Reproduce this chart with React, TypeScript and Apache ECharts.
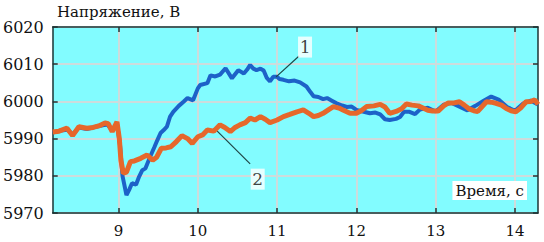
import React, { useEffect, useRef } from "react";
import * as echarts from "echarts";

const X_MIN = 8.17;
const X_MAX = 14.29;
const xTickValues = [9, 10, 11, 12, 13, 14];
const yTickValues = [5970, 5980, 5990, 6000, 6010, 6020];

// Series 1 (blue)
const series1: [number, number][] = [
  [8.17, 5991.6], [8.27, 5992.2], [8.36, 5992.4], [8.42, 5991], [8.5, 5993], [8.6, 5992.6],
  [8.7, 5993.1], [8.8, 5993.6], [8.86, 5993.8], [8.92, 5992.2], [8.98, 5994.2], [9.02, 5988],
  [9.05, 5980], [9.1, 5974.8], [9.14, 5976.5], [9.17, 5978], [9.22, 5977.6], [9.26, 5979.8],
  [9.3, 5981.5], [9.34, 5982], [9.4, 5985.2], [9.45, 5987.6], [9.49, 5989.6], [9.53, 5991.5],
  [9.57, 5992.3], [9.61, 5993.2], [9.65, 5995.9], [9.69, 5997.2], [9.76, 5998.8], [9.82, 5999.9],
  [9.87, 6000.9], [9.94, 6000.3], [10.0, 6003.5], [10.03, 6004.4], [10.12, 6004.9], [10.16, 6007],
  [10.22, 6006.7], [10.28, 6007.2], [10.35, 6008.9], [10.43, 6006.2], [10.47, 6007.3], [10.51, 6008.4],
  [10.58, 6007.5], [10.62, 6008.5], [10.66, 6009.8], [10.7, 6008.8], [10.74, 6008.4], [10.79, 6008.8],
  [10.83, 6008.3], [10.87, 6006.3], [10.91, 6005.4], [10.95, 6006.6], [11.0, 6006.6], [11.03, 6006],
  [11.08, 6005.8], [11.15, 6005.4], [11.22, 6005.6], [11.29, 6005.1], [11.37, 6004], [11.42, 6002.5],
  [11.46, 6001.4], [11.52, 6001.2], [11.58, 6000.6], [11.63, 6000.9], [11.69, 6000.2], [11.75, 5999.5],
  [11.82, 5998.9], [11.88, 5998.5], [11.94, 5998.6], [12.0, 5997.7], [12.08, 5997.3], [12.17, 5996.8],
  [12.24, 5997], [12.3, 5996.5], [12.36, 5995.2], [12.42, 5995], [12.5, 5995.3], [12.55, 5995.8],
  [12.6, 5997.2], [12.67, 5997.2], [12.74, 5996.6], [12.8, 5997.8], [12.9, 5998.3], [13.0, 5997.3],
  [13.1, 5999.1], [13.2, 5999.6], [13.3, 5998.6], [13.4, 5997.6], [13.5, 5998.8], [13.6, 6000.1],
  [13.7, 6001.3], [13.8, 6000.4], [13.9, 5998.5], [14.0, 5997.5], [14.1, 5999.4], [14.2, 6000.2],
  [14.29, 5999.2],
];

// Series 2 (orange)
const series2: [number, number][] = [
  [8.17, 5991.8], [8.25, 5992], [8.35, 5992.8], [8.42, 5990.8], [8.5, 5993.2], [8.6, 5992.8],
  [8.68, 5993], [8.75, 5993.4], [8.83, 5994.2], [8.87, 5994], [8.92, 5991.9], [8.98, 5994.5],
  [9.01, 5990], [9.03, 5984.2], [9.06, 5980.7], [9.1, 5981], [9.15, 5983.8], [9.2, 5984],
  [9.28, 5984.7], [9.36, 5985.6], [9.43, 5984.2], [9.48, 5985], [9.54, 5987.4], [9.6, 5987.5],
  [9.66, 5987.8], [9.73, 5989.2], [9.8, 5990.8], [9.87, 5990], [9.93, 5988.7], [10.0, 5990.5],
  [10.06, 5991], [10.12, 5992.3], [10.2, 5992], [10.28, 5993.7], [10.34, 5993], [10.41, 5991.9],
  [10.47, 5993], [10.53, 5993.7], [10.6, 5994.3], [10.66, 5995.5], [10.72, 5995], [10.79, 5995.9],
  [10.85, 5995.2], [10.91, 5994.3], [11.0, 5995], [11.08, 5995.9], [11.16, 5996.5], [11.25, 5997.2],
  [11.33, 5997.7], [11.4, 5996.8], [11.46, 5995.9], [11.52, 5996.2], [11.58, 5996.8], [11.65, 5997.8],
  [11.71, 5998.6], [11.78, 5998.2], [11.83, 5997.7], [11.92, 5996.8], [12.0, 5996.8], [12.06, 5997.5],
  [12.13, 5998.6], [12.22, 5998.8], [12.3, 5999.2], [12.36, 5998.5], [12.42, 5996.8], [12.5, 5997.3],
  [12.57, 5998], [12.63, 5999.3], [12.7, 5999], [12.78, 5998.8], [12.84, 5998.2], [12.9, 5997.6],
  [12.96, 5997.4], [13.03, 5997.4], [13.1, 5998.8], [13.16, 5999.6], [13.23, 5999.6], [13.3, 5999.9],
  [13.36, 5999], [13.42, 5998], [13.48, 5997.5], [13.53, 5997.3], [13.58, 5998.5], [13.64, 5999.9],
  [13.7, 5999.8], [13.76, 5999.5], [13.83, 5999], [13.89, 5998.1], [13.95, 5997.5], [14.01, 5997.2],
  [14.07, 5998.2], [14.14, 5999.9], [14.2, 6000], [14.25, 6000.4], [14.29, 5999.2],
];

// Callout labels and their leader lines (data coordinates)
const calloutLabels = ["1", "2"];
const calloutPositions: [number, number][] = [[11.352, 6014.6], [10.755, 5979.1]];
const leader1: [number, number][] = [[10.987, 6006.6], [11.277, 6012.2]];
const leader2: [number, number][] = [[10.245, 5992.0], [10.66, 5983.2]];

const yAxisTitle = "Напряжение, В";
const xAxisTitle = "Время, с";

const FONT = "DejaVu Serif";
const BLUE = "#1d62c8";
const ORANGE = "#e6672b";
const FRAME = "#1c3434";

export default function App() {
  const ref = useRef<HTMLDivElement>(null);

  useEffect(() => {
    document.body.style.margin = "0";
    if (!ref.current) return;
    const chart = echarts.init(ref.current, undefined, { renderer: "svg" });

    const baseX = {
      type: "value" as const,
      min: X_MIN,
      max: X_MAX,
      axisLine: { show: true, onZero: false, lineStyle: { color: FRAME, width: 1.5 } },
      axisTick: { show: true, inside: true, length: 5, customValues: xTickValues, lineStyle: { color: FRAME, width: 1.5 } },
    };
    const baseY = {
      type: "value" as const,
      min: 5970,
      max: 6020,
      interval: 10,
      axisLine: { show: true, onZero: false, lineStyle: { color: FRAME, width: 1.5 } },
      axisTick: { show: true, inside: true, length: 5, lineStyle: { color: FRAME, width: 1.5 } },
    };

    chart.setOption({
      animation: false,
      textStyle: { fontFamily: FONT },
      grid: {
        left: 52,
        right: 6,
        top: 27,
        bottom: 29,
        show: true,
        backgroundColor: "#82fcff",
        borderWidth: 0,
      },
      xAxis: [
        {
          ...baseX,
          position: "bottom",
          axisLabel: {
            show: true,
            customValues: xTickValues,
            formatter: (v: number) => String(v),
            margin: 10,
            fontFamily: FONT,
            fontSize: 15,
            color: "#111",
          },
          splitLine: { show: true, lineStyle: { color: "#cddcdc", width: 2 } },
        },
        {
          ...baseX,
          position: "top",
          axisLabel: { show: false },
          splitLine: { show: false },
        },
      ],
      yAxis: [
        {
          ...baseY,
          position: "left",
          axisLabel: {
            show: true,
            customValues: yTickValues,
            formatter: (v: number) => String(v),
            margin: 9,
            fontFamily: FONT,
            fontSize: 16,
            color: "#111",
          },
          splitLine: { show: true, lineStyle: { color: "#cddcdc", width: 2 } },
        },
        {
          ...baseY,
          position: "right",
          axisLabel: { show: false },
          splitLine: { show: false },
        },
      ],
      series: [
        {
          type: "line",
          data: series1,
          showSymbol: false,
          symbol: "none",
          lineStyle: { color: BLUE, width: 4 },
          z: 3,
        },
        {
          type: "line",
          data: series2,
          showSymbol: false,
          symbol: "none",
          lineStyle: { color: ORANGE, width: 5 },
          z: 4,
        },
        {
          type: "line",
          data: leader1,
          showSymbol: false,
          symbol: "none",
          lineStyle: { color: "#1e4646", width: 1.2 },
          z: 5,
        },
        {
          type: "line",
          data: leader2,
          showSymbol: false,
          symbol: "none",
          lineStyle: { color: "#1e4646", width: 1.2 },
          z: 5,
        },
        {
          type: "scatter",
          data: calloutPositions.map((p, i) => ({ value: p, name: calloutLabels[i] })),
          symbol: "rect",
          symbolSize: [14, 21],
          itemStyle: { color: "#ffffff" },
          label: {
            show: true,
            position: "inside",
            formatter: (p: any) => p.name,
            fontFamily: FONT,
            fontSize: 17,
            color: "#111",
          },
          z: 6,
        },
      ],
      graphic: [
        {
          type: "text",
          left: 57,
          top: 4,
          style: {
            text: yAxisTitle,
            fontFamily: FONT,
            fontSize: 15,
            fill: "#111",
          },
        },
        {
          type: "text",
          right: 17,
          top: 181,
          z: 10,
          style: {
            text: xAxisTitle,
            fontFamily: FONT,
            fontSize: 15,
            fill: "#111",
            backgroundColor: "#ffffff",
            padding: [2, 3, 2, 3],
          },
        },
      ],
    });

    return () => chart.dispose();
  }, []);

  return <div ref={ref} style={{ width: 544, height: 242 }} />;
}
